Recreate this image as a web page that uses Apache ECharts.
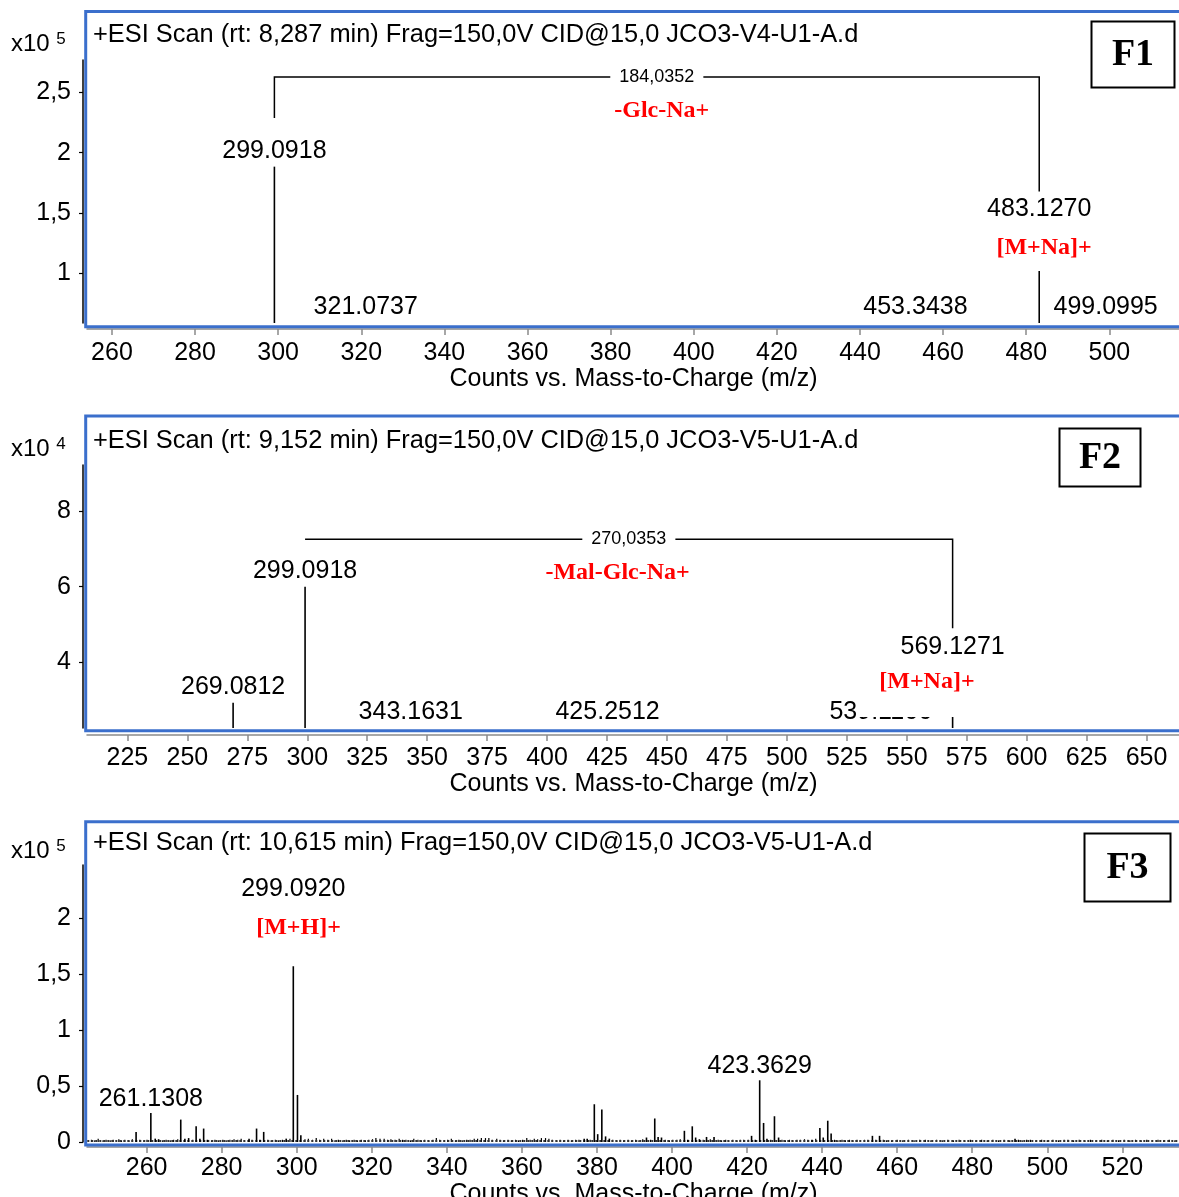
<!DOCTYPE html>
<html>
<head>
<meta charset="utf-8">
<script src="https://cdn.jsdelivr.net/npm/echarts@6/dist/echarts.min.js"></script>
<style>
  html, body { margin: 0; padding: 0; background: #fff; }
  #chart { width: 1179px; height: 1197px; }
</style>
</head>
<body>
<div id="chart"></div>
<script>
// ---------- F1 : x10^5 counts ----------
var f1Mz = [299.0918, 321.0737, 453.3438, 483.1270, 499.0995];
var f1Counts = [1.884, 0.32, 0.28, 1.40, 0.30];
var f1PeakLabels = ['299.0918', '321.0737', '453.3438', '483.1270', '499.0995'];
var f1XTicks = [260, 280, 300, 320, 340, 360, 380, 400, 420, 440, 460, 480, 500];
var f1YTicks = [1, 1.5, 2, 2.5];
var f1NoteMz = [392.3, 484.3];
var f1NoteY = [2.447, 1.434];
var f1NoteText = ['-Glc-Na+', '[M+Na]+'];
var f1Bracket = [299.0918, 483.1270, 2.628, 2.288, 1.677]; // from, to, level, left leg end, right leg end
var f1Delta = '184,0352';

// ---------- F2 : x10^4 counts ----------
var f2Mz = [269.0812, 299.0918, 343.1631, 425.2512, 539.1166, 569.1271];
var f2Counts = [2.93, 6.0, 2.1, 2.0, 2.2, 3.974];
var f2PeakLabels = ['269.0812', '299.0918', '343.1631', '425.2512', '539.1166', '569.1271'];
var f2XTicks = [225, 250, 275, 300, 325, 350, 375, 400, 425, 450, 475, 500, 525, 550, 575, 600, 625, 650];
var f2YTicks = [4, 6, 8];
var f2NoteMz = [429.4, 558.4];
var f2NoteY = [6.678, 4.087];
var f2NoteText = ['-Mal-Glc-Na+', '[M+Na]+'];
var f2Bracket = [299.0918, 569.1271, 7.251, 7.251, 4.897];
var f2Delta = '270,0353';

// ---------- F3 : x10^5 counts ----------
var f3Mz = [257.2, 261.1308, 262.3, 263.2, 269.1, 270.2, 271.2, 273.2, 274.2, 275.2, 276.2, 287.3, 289.3, 290.2, 291.2, 297.2,
  299.0920, 300.2, 301.1, 376.6, 377.4, 379.3, 380.2, 381.3, 382.3, 383.3, 393.2, 395.4, 396.3, 397.2, 403.3, 404.2,
  405.4, 406.3, 407.3, 409.2, 411.2, 421.2, 422.2, 423.3629, 424.4, 425.3, 427.3, 428.4, 437.3, 439.4, 440.3, 441.5,
  442.4, 453.4, 455.3, 491.4];
var f3Counts = [0.09, 0.259, 0.03, 0.025, 0.2, 0.03, 0.035, 0.14, 0.03, 0.12, 0.02, 0.03, 0.12, 0.02, 0.09, 0.03,
  2.13, 0.42, 0.06, 0.03, 0.03, 0.337, 0.07, 0.29, 0.05, 0.03, 0.04, 0.21, 0.045, 0.04, 0.10, 0.02,
  0.14, 0.04, 0.025, 0.045, 0.045, 0.055, 0.02, 0.551, 0.17, 0.03, 0.23, 0.04, 0.02, 0.125, 0.04, 0.19,
  0.075, 0.055, 0.055, 0.03];
var f3LabelMz = [261.1308, 299.0920, 423.3629];
var f3LabelText = ['261.1308', '299.0920', '423.3629'];
var f3NoiseMz = [245.3, 246.2, 247.1, 248.4, 249.2, 250.3, 251.1, 252.6, 253.3, 254.2, 255.3, 256.2, 258.2, 259.3, 260.1,
  264.3, 265.2, 266.3, 267.2, 268.3, 272.3, 277.3, 278.2, 279.1, 280.3, 281.2, 282.2, 283.3, 284.3, 285.2, 286.1, 288.1,
  292.3, 293.2, 294.3, 295.1, 296.2, 298.2, 302.2, 303.1, 304.2, 305.2, 306.1, 307.2, 308.3, 309.3, 310.2, 311.1, 312.3,
  313.2, 314.1, 315.3, 316.2, 317.2, 318.3, 319.2, 320.2, 321.1, 322.2, 323.3, 324.2, 325.1, 326.2, 327.3, 328.2, 329.1,
  330.3, 331.2, 332.3, 333.2, 334.1, 335.2, 336.3, 337.2, 338.1, 339.3, 340.2, 341.2, 342.3, 343.2, 344.1, 345.3, 346.2,
  347.3, 348.2, 349.2, 350.3, 351.2, 352.1, 353.3, 354.2, 355.1, 356.3, 357.2, 358.3, 359.1, 360.2, 361.3, 362.2, 363.3,
  364.2, 365.2, 366.3, 367.2, 368.1, 369.3, 370.2, 371.1, 372.3, 373.2, 374.3, 375.2, 378.2, 384.2, 385.3, 386.2, 387.1,
  388.3, 389.2, 390.3, 391.2, 392.2, 394.3, 398.2, 399.3, 400.2, 401.3, 402.2, 408.3, 410.2, 412.3, 413.2, 414.3, 415.1,
  416.2, 417.3, 418.2, 419.1, 420.3, 426.3, 429.3, 430.2, 431.3, 432.2, 433.3, 434.2, 435.3, 436.2, 438.3, 443.3, 444.2,
  445.3, 446.2, 447.3, 448.2, 449.3, 450.2, 451.3, 452.2, 454.3, 456.3, 457.2, 458.5, 460.0, 461.5, 463.0, 464.5, 466.0,
  467.5, 469.0, 470.5, 472.0, 473.5, 475.0, 476.5, 478.0, 479.5, 481.0, 482.5, 484.0, 485.5, 487.0, 488.5, 490.0, 492.3,
  493.3, 494.5, 495.5, 497.0, 498.5, 500.0, 501.5, 503.0, 504.5, 505.5, 507.0, 508.5, 510.0, 511.5, 513.0, 514.5, 516.0,
  517.5, 519.0, 520.5, 522.0, 523.5, 525.0, 526.5, 528.0, 529.5, 531.0, 532.5, 534.0];
var f3NoiseCounts = [.02, .015, .03, .015, .02, .015, .02, .025, .015, .02, .015, .025, .02, .015, .02,
  .015, .02, .015, .02, .025, .02, .015, .02, .015, .02, .015, .02, .025, .02, .03, .015, .02,
  .02, .015, .02, .015, .02, .03, .025, .03, .02, .035, .02, .03, .02, .03, .015, .02, .015,
  .02, .015, .02, .015, .02, .015, .02, .025, .035, .03, .03, .02, .025, .02, .03, .02, .02,
  .015, .03, .02, .015, .02, .015, .02, .035, .02, .015, .02, .03, .015, .02, .015, .02, .02,
  .03, .03, .035, .035, .035, .02, .03, .02, .015, .02, .015, .02, .015, .02, .035, .02, .03,
  .025, .035, .035, .03, .02, .015, .02, .015, .02, .015, .02, .02, .02, .02, .015, .02, .015,
  .02, .015, .02, .015, .025, .02, .02, .015, .02, .02, .025, .02, .025, .02, .015, .02, .015,
  .02, .015, .02, .02, .02, .02, .02, .015, .02, .015, .02, .02, .025, .02, .03, .02, .015,
  .02, .015, .02, .015, .02, .015, .02, .02, .02, .02, .015, .015, .02, .015, .02, .015, .02,
  .02, .015, .02, .015, .02, .015, .02, .015, .02, .015, .02, .015, .02, .015, .02, .015, .02,
  .015, .02, .02, .015, .02, .015, .02, .015, .02, .02, .015, .02, .015, .02, .015, .02, .015,
  .02, .015, .02, .015, .02, .015, .02, .015, .02, .015, .02, .015];
var f3Baseline = [[244.2, 0.009], [535.4, 0.009]];
var f3XTicks = [260, 280, 300, 320, 340, 360, 380, 400, 420, 440, 460, 480, 500, 520];
var f3YTicks = [0, 0.5, 1, 1.5, 2];
var f3NoteMz = [300.47];
var f3NoteY = [2.158];
var f3NoteText = ['[M+H]+'];

var SANS = '"Liberation Sans", Arial, sans-serif';
var SERIF = '"Liberation Serif", "Times New Roman", serif';
var BLUE = '#3b6fcc';

var panels = [
  { mz: f1Mz, counts: f1Counts, labels: f1PeakLabels, xTicks: f1XTicks, yTicks: f1YTicks,
    xMin: 254.0, xMax: 517.0, yMin: 0.588, yMax: 2.768, top: 60, height: 263, xOffset: 6, labelGap: 16,
    noteMz: f1NoteMz, noteY: f1NoteY, noteText: f1NoteText, notePad: [[0, 0, 0, 0], [15, 4, 11, 4]],
    bracket: f1Bracket, delta: f1Delta, nameGap: 31, labelMargin: 12 },
  { mz: f2Mz, counts: f2Counts, labels: f2PeakLabels, xTicks: f2XTicks, yTicks: f2YTicks,
    xMin: 208.15, xMax: 663.95, yMin: 2.263, yMax: 9.216, top: 465, height: 263, xOffset: 7, labelGap: 16,
    noteMz: f2NoteMz, noteY: f2NoteY, noteText: f2NoteText, notePad: [[0, 0, 0, 0], [11, 22, 23, 22]],
    bracket: f2Bracket, delta: f2Delta, nameGap: 30, labelMargin: 11 },
  { mz: f3Mz, counts: f3Counts, labels: f3Mz.map(function (m) {
      var k = f3LabelMz.indexOf(m); return k >= 0 ? f3LabelText[k] : '';
    }), xTicks: f3XTicks, yTicks: f3YTicks,
    xMin: 244.12, xMax: 535.36, yMin: 0, yMax: 2.473, top: 865, height: 277, xOffset: 5, labelGap: 14,
    noteMz: f3NoteMz, noteY: f3NoteY, noteText: f3NoteText, notePad: [[16, 4, 26, 4]],
    bracket: null, delta: '', nameGap: 29, labelMargin: 9 }
];

function comma(v) { return String(v).replace('.', ','); }

var grids = [], xAxes = [], yAxes = [], series = [];

panels.forEach(function (p, i) {
  grids.push({ left: 87, top: p.top, width: 1093, height: p.height, containLabel: false, outerBoundsMode: 'none' });
  xAxes.push({
    gridIndex: i, type: 'value', min: p.xMin, max: p.xMax, offset: p.xOffset,
    axisLine: { onZero: false, lineStyle: { color: '#8a8a8a', width: 1.5 } },
    axisTick: { customValues: p.xTicks, length: 6, lineStyle: { color: '#8a8a8a', width: 1.5 } },
    axisLabel: { customValues: p.xTicks, color: '#000', fontSize: 25, fontFamily: SANS, margin: p.labelMargin },
    splitLine: { show: false },
    name: 'Counts vs. Mass-to-Charge (m/z)', nameLocation: 'middle', nameGap: p.nameGap,
    nameTextStyle: { color: '#000', fontSize: 25, fontFamily: SANS }
  });
  yAxes.push({
    gridIndex: i, type: 'value', min: p.yMin, max: p.yMax, offset: 4,
    axisLine: { show: true, lineStyle: { color: '#000', width: 1.5 } },
    axisTick: { show: true, customValues: p.yTicks, length: 4, lineStyle: { color: '#000', width: 1.2 } },
    axisLabel: { customValues: p.yTicks, color: '#000', fontSize: 25, fontFamily: SANS, margin: 12,
      formatter: function (v) { return comma(v); } },
    splitLine: { show: false }
  });

  // peaks as sticks, each labelled with its m/z just above its top
  var peakData = p.mz.map(function (m, k) { return [m, p.counts[k], p.labels[k]]; });
  series.push({
    type: 'custom', xAxisIndex: i, yAxisIndex: i, data: peakData, z: 3, silent: true,
    renderItem: function (params, api) {
      var d = peakData[params.dataIndex];
      var base = api.coord([d[0], p.yMin]);
      var top = api.coord([d[0], Math.max(d[1], p.yMin)]);
      var kids = [];
      if (d[1] > p.yMin) {
        kids.push({ type: 'line', shape: { x1: base[0], y1: base[1], x2: top[0], y2: top[1] },
          style: { stroke: '#000', lineWidth: 1.6 } });
      }
      if (d[2]) {
        kids.push({ type: 'text', x: top[0], y: top[1] - p.labelGap, z2: 5,
          style: { text: d[2], fill: '#000', font: '25px ' + SANS,
            align: 'center', verticalAlign: 'middle', textAlign: 'center', textVerticalAlign: 'middle' } });
      }
      return { type: 'group', children: kids };
    }
  });

  // red annotations (white box hides what lies behind)
  var noteData = p.noteMz.map(function (m, k) { return [m, p.noteY[k], p.noteText[k]]; });
  series.push({
    type: 'custom', xAxisIndex: i, yAxisIndex: i, data: noteData, z: 6, silent: true,
    renderItem: function (params, api) {
      var d = noteData[params.dataIndex];
      var pt = api.coord([d[0], d[1]]);
      return { type: 'text', x: pt[0], y: pt[1],
        style: { text: d[2], fill: '#ff0000', font: 'bold 24px ' + SERIF, backgroundColor: '#fff',
          padding: p.notePad[params.dataIndex],
          align: 'center', verticalAlign: 'top', textAlign: 'center', textVerticalAlign: 'top' } };
    }
  });

  // mass-difference bracket
  if (p.bracket) {
    var b = p.bracket;
    series.push({
      type: 'custom', xAxisIndex: i, yAxisIndex: i, data: [b], z: 4, silent: true,
      renderItem: function (params, api) {
        var a = api.coord([b[0], b[3]]), c = api.coord([b[0], b[2]]);
        var e = api.coord([b[1], b[2]]), f = api.coord([b[1], b[4]]);
        var mid = api.coord([(b[0] + b[1]) / 2, b[2]]);
        return { type: 'group', children: [
          { type: 'polyline', shape: { points: [a, c, e, f] }, style: { stroke: '#000', lineWidth: 1.5, fill: null } },
          { type: 'text', x: mid[0], y: mid[1], z2: 5,
            style: { text: p.delta, fill: '#000', font: '18px ' + SANS, backgroundColor: '#fff', padding: [2, 9, 2, 9],
              align: 'center', verticalAlign: 'middle', textAlign: 'center', textVerticalAlign: 'middle' } }
        ] };
      }
    });
  }
});

// low-level noise of the F3 scan
var noiseData = f3NoiseMz.map(function (m, k) { return [m, f3NoiseCounts[k]]; });
series.push({
  type: 'custom', xAxisIndex: 2, yAxisIndex: 2, data: noiseData, z: 2, silent: true,
  renderItem: function (params, api) {
    var d = noiseData[params.dataIndex];
    var a = api.coord([d[0], 0]), c = api.coord([d[0], d[1]]);
    return { type: 'line', shape: { x1: a[0], y1: a[1], x2: c[0], y2: c[1] }, style: { stroke: '#000', lineWidth: 1.2 } };
  }
});
series.push({
  type: 'line', xAxisIndex: 2, yAxisIndex: 2, data: f3Baseline, symbol: 'none', silent: true, z: 2,
  lineStyle: { color: '#333', width: 2, type: [2, 2] }
});

var headers = [
  '+ESI Scan (rt: 8,287 min) Frag=150,0V CID@15,0 JCO3-V4-U1-A.d',
  '+ESI Scan (rt: 9,152 min) Frag=150,0V CID@15,0 JCO3-V5-U1-A.d',
  '+ESI Scan (rt: 10,615 min) Frag=150,0V CID@15,0 JCO3-V5-U1-A.d'
];
var exps = ['5', '4', '5'];
var tags = ['F1', 'F2', 'F3'];
var frameY = [[11.5, 326.7], [416, 730.7], [821.7, 1145]];
var headerY = [35, 441, 843];
var expY = [44, 449, 851];
var tagBox = [[1091.5, 21.5, 83, 66], [1059.5, 428.5, 81, 58], [1084.5, 833.5, 86, 68]];

var graphic = [];
for (var i = 0; i < 3; i++) {
  graphic.push({ type: 'rect', silent: true, z: 1,
    shape: { x: 85.7, y: frameY[i][0], width: 1110, height: frameY[i][1] - frameY[i][0] },
    style: { fill: null, stroke: BLUE, lineWidth: 3 } });
  graphic.push({ type: 'text', x: 93, y: headerY[i], silent: true, z: 10,
    style: { text: headers[i], fill: '#000', font: '25.4px ' + SANS, verticalAlign: 'middle', textVerticalAlign: 'middle' } });
  graphic.push({ type: 'text', x: 11, y: expY[i], silent: true, z: 10,
    style: { text: '{a|x10}  {b|' + exps[i] + '}', verticalAlign: 'middle', textVerticalAlign: 'middle',
      rich: { a: { fontSize: 24, fontFamily: SANS, fill: '#000', color: '#000' },
              b: { fontSize: 17, fontFamily: SANS, fill: '#000', color: '#000', verticalAlign: 'bottom', padding: [0, 0, 10, 0] } } } });
  var t = tagBox[i];
  graphic.push({ type: 'rect', silent: true, z: 10,
    shape: { x: t[0], y: t[1], width: t[2], height: t[3] },
    style: { fill: '#fff', stroke: '#000', lineWidth: 2 } });
  graphic.push({ type: 'text', x: t[0] + t[2] / 2, y: t[1] + t[3] / 2 + 1, silent: true, z: 11,
    style: { text: tags[i], fill: '#000', font: 'bold 38px ' + SERIF,
      align: 'center', verticalAlign: 'middle', textAlign: 'center', textVerticalAlign: 'middle' } });
}

var chart = echarts.init(document.getElementById('chart'));
chart.setOption({
  backgroundColor: '#fff',
  animation: false,
  grid: grids,
  xAxis: xAxes,
  yAxis: yAxes,
  series: series,
  graphic: graphic
});
</script>
</body>
</html>
